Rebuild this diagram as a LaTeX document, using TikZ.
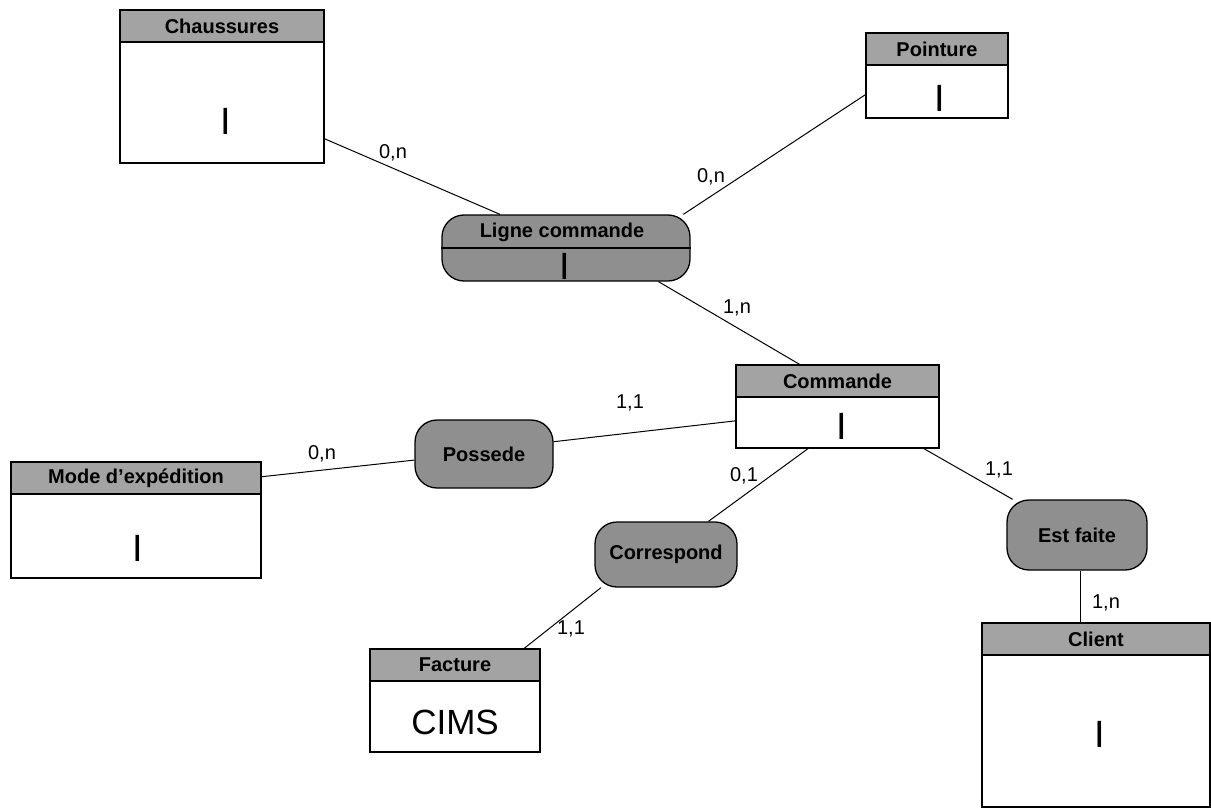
\documentclass[tikz,border=0pt]{standalone}
\usepackage{fontspec}
\setmainfont{Liberation Sans}
\usetikzlibrary{positioning}
\definecolor{hatch}{rgb}{0.64,0.64,0.64}
\definecolor{assochatch}{rgb}{0.56,0.56,0.56}

\begin{document}
\begin{tikzpicture}[x=1pt,y=-1pt,line width=1pt,
    entity node/.style={rectangle,draw,line width=1.3pt,inner sep=0pt},
    head node/.style={rectangle,draw,fill=hatch,line width=1.3pt,minimum height=32pt,inner sep=0pt,font=\bfseries\fontsize{20}{20}\selectfont},
    assoc node/.style={rectangle,rounded corners=22pt,draw,fill=assochatch,line width=1.3pt,inner sep=0pt,font=\bfseries\fontsize{20}{20}\selectfont},
    id node/.style={inner sep=0pt,font=\fontsize{38}{38}\selectfont},
    card node/.style={inner sep=1pt,font=\fontsize{20}{20}\selectfont}]
  \useasboundingbox (0,0) rectangle (1211,808);

  % entities
  \node[entity node,minimum width=204pt,minimum height=153pt] (chaussures) at (222,86.5) {};
  \node[head node,minimum width=204pt,anchor=north] (chaussures head) at (chaussures.north) {Chaussures};
  \node[id node] (chaussures id) at (226,121) {I};

  \node[entity node,minimum width=142pt,minimum height=85pt] (pointure) at (937,75.5) {};
  \node[head node,minimum width=142pt,anchor=north] (pointure head) at (pointure.north) {Pointure};
  \node[id node] (pointure id) at (940,98) {I};

  \node[entity node,minimum width=203pt,minimum height=83pt] (commande) at (837.5,406.5) {};
  \node[head node,minimum width=203pt,anchor=north] (commande head) at (commande.north) {Commande};
  \node[id node] (commande id) at (842,426) {I};

  \node[entity node,minimum width=250pt,minimum height=116pt] (mode) at (136,520) {};
  \node[head node,minimum width=250pt,anchor=north] (mode head) at (mode.north) {Mode d’expédition};
  \node[id node] (mode id) at (138,548) {I};

  \node[entity node,minimum width=170pt,minimum height=103pt] (facture) at (455,700.5) {};
  \node[head node,minimum width=170pt,anchor=north] (facture head) at (facture.north) {Facture};
  \node[id node,font=\fontsize{35}{35}\selectfont] (facture id) at (455,722) {CIMS};

  \node[entity node,minimum width=228pt,minimum height=184pt] (client) at (1096,715) {};
  \node[head node,minimum width=228pt,anchor=north] (client head) at (client.north) {Client};
  \node[id node] (client id) at (1100,734) {I};

  % associations
  \node[assoc node,minimum width=248pt,minimum height=66pt] (ligne) at (566,248) {};
  \draw[line width=1.3pt] (ligne.west) -- (ligne.east);
  \node[inner sep=0pt,font=\bfseries\fontsize{20}{20}\selectfont] (ligne text) at (562,232) {Ligne commande};
  \node[id node] (ligne id) at (565,266) {I};

  \node[assoc node,minimum width=138pt,minimum height=68pt] (possede) at (484,454) {Possede};
  \node[assoc node,minimum width=142pt,minimum height=65pt] (correspond) at (666,554.5) {Correspond};
  \node[assoc node,minimum width=140pt,minimum height=70pt] (estfaite) at (1077,535) {Est faite};

  % links
  \path[-] (chaussures.-27) edge (ligne.153);
  \path[-] (pointure.195) edge (ligne.16);
  \path[-] (ligne.-20) edge (commande.132);
  \path[-] (possede.10) edge (commande.188);
  \path[-] (possede.185) edge (mode.19);
  \path[-] (commande.235) edge (correspond.38);
  \path[-] (correspond.207) edge (facture.37);
  \path[-] (commande.-26) edge (estfaite.151);
  \path[-] (estfaite.-84) edge (estfaite.-84 |- client.north);

  % cardinalities
  \node[card node] (card chaussures) at (393,153) {0,n};
  \node[card node] (card pointure) at (711,177) {0,n};
  \node[card node] (card ligne) at (737,308) {1,n};
  \node[card node] (card possede) at (630,403) {1,1};
  \node[card node] (card mode) at (322,454) {0,n};
  \node[card node] (card correspond) at (744,476) {0,1};
  \node[card node] (card facture) at (571,629) {1,1};
  \node[card node] (card estfaite) at (999,470) {1,1};
  \node[card node] (card client) at (1106,603) {1,n};
\end{tikzpicture}
\end{document}
